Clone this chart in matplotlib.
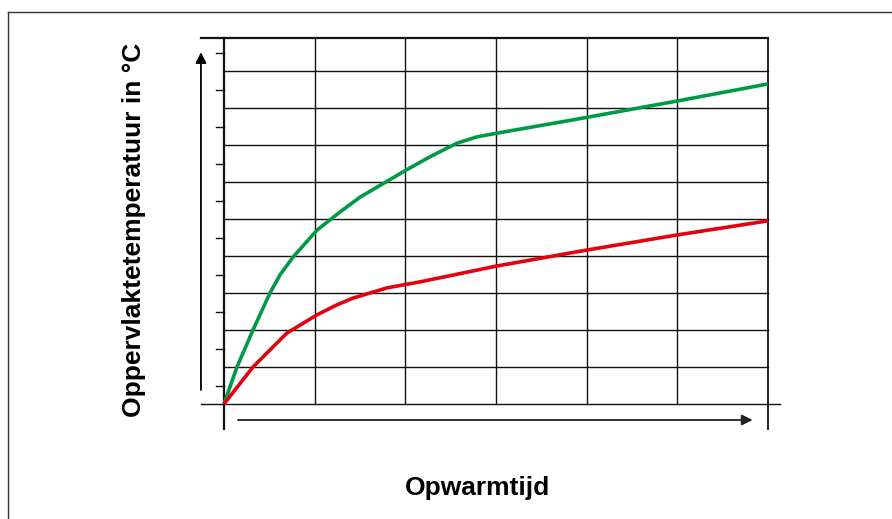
import matplotlib
matplotlib.use("Agg")
import matplotlib.pyplot as plt
from matplotlib.lines import Line2D

# curve data (x in grid columns, y in grid rows)
green_x = [0, 0.143, 0.32, 0.507, 0.618, 0.761, 1.026, 1.28, 1.5, 2.007, 2.27, 2.57, 2.79, 3.01, 3.85, 5.0, 6.0]
green_y = [0, 1.0, 2.0, 3.0, 3.49, 3.97, 4.70, 5.19, 5.59, 6.32, 6.68, 7.05, 7.22, 7.32, 7.68, 8.19, 8.65]
red_x = [0, 0.32, 0.507, 0.695, 1.026, 1.246, 1.42, 1.80, 2.16, 3.01, 4.0, 5.0, 6.0]
red_y = [0, 1.0, 1.46, 1.92, 2.41, 2.68, 2.86, 3.14, 3.30, 3.73, 4.16, 4.57, 4.95]

n_cols = 6
n_rows = 9
y_top = 9.89
x_label = "Opwarmtijd"
y_label = "Oppervlaktetemperatuur in °C"

plt.rcParams['font.family'] = ['Liberation Sans', 'DejaVu Sans']

fig = plt.figure(figsize=(8.92, 5.19), dpi=100)
ax = fig.add_axes([0.0, 0.0, 1.0, 1.0])
# map pixel frame: origin at (224, 404), col 90.67 px, row 37 px
col_px = 90.67
row_px = 37.0
ax.set_xlim(-224 / col_px, (892 - 224) / col_px)
ax.set_ylim(-(519 - 404) / row_px, 404 / row_px)
ax.axis('off')

lc = '#111111'
lw = 1.0
# horizontal grid
for j in range(1, n_rows + 1):
    ax.plot([0, n_cols], [j, j], color=lc, lw=lw, zorder=1)
ax.plot([-0.254, 6.13], [0, 0], color=lc, lw=lw, zorder=1)
ax.plot([-0.254, n_cols], [y_top, y_top], color=lc, lw=lw * 1.6, zorder=1)
# vertical grid
for i in range(1, n_cols):
    ax.plot([i, i], [0, y_top], color=lc, lw=lw, zorder=1)
ax.plot([0, 0], [-0.676, y_top], color=lc, lw=lw * 1.6, zorder=1)
ax.plot([n_cols, n_cols], [-0.676, y_top], color=lc, lw=lw * 1.3, zorder=1)
# tick marks on the left
for j in range(n_rows + 1):
    ax.plot([-0.088, 0], [j + 0.5, j + 0.5], color=lc, lw=lw, zorder=1)

# arrows
ax.annotate('', xy=(-0.254, 9.51), xytext=(-0.254, 0.38),
            arrowprops=dict(arrowstyle='-|>', color='black', lw=1.3,
                            mutation_scale=16, shrinkA=0, shrinkB=0))
ax.annotate('', xy=(5.83, -0.432), xytext=(0.154, -0.432),
            arrowprops=dict(arrowstyle='-|>', color='#222222', lw=1.3,
                            mutation_scale=16, shrinkA=0, shrinkB=0))

# curves
ax.plot(green_x, green_y, color='#009a44', lw=2.6, zorder=3,
        solid_capstyle='butt', solid_joinstyle='round')
ax.plot(red_x, red_y, color='#e3000f', lw=2.6, zorder=3,
        solid_capstyle='butt', solid_joinstyle='round')

# labels
fig.text(134 / 892, 1 - 230 / 519, y_label, rotation=90, ha='center', va='center',
         fontsize=19, fontweight='bold')
fig.text(478 / 892, 1 - 488 / 519, x_label, ha='center', va='center',
         fontsize=19, fontweight='bold')

# outer frame (top and left only)
fig.add_artist(Line2D([8 / 892, 1.0], [1 - 12 / 519, 1 - 12 / 519],
                      transform=fig.transFigure, color='#333333', lw=1.0))
fig.add_artist(Line2D([8 / 892, 8 / 892], [1 - 12 / 519, 0.0],
                      transform=fig.transFigure, color='#333333', lw=1.0))

fig.savefig('out.png', dpi=100)
